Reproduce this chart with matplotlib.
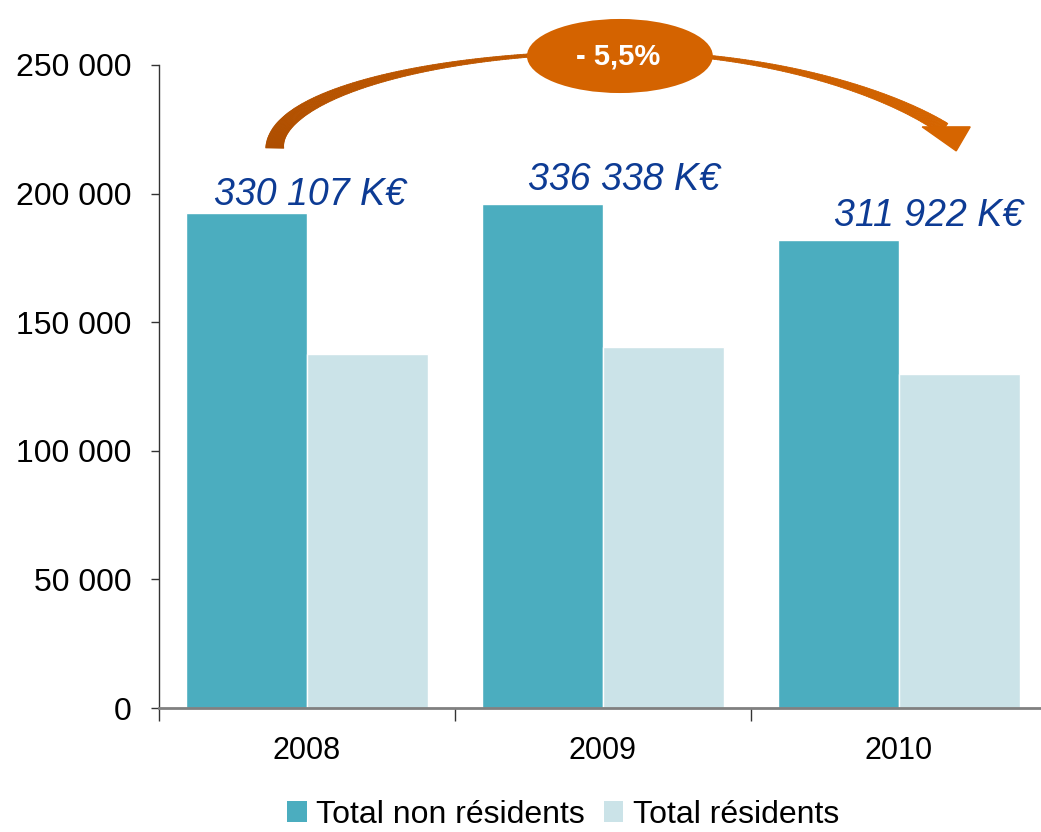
import numpy as np
import matplotlib
matplotlib.use("Agg")
import matplotlib.pyplot as plt
from matplotlib.patches import Ellipse, Patch, Polygon
from matplotlib.collections import PolyCollection
from matplotlib.transforms import IdentityTransform
from matplotlib.ticker import FuncFormatter, FixedLocator
import matplotlib.colors as mcolors

plt.rcParams['font.family'] = ['Liberation Sans', 'DejaVu Sans']

# data
years = ["2008", "2009", "2010"]
non_residents = [192300, 196000, 182000]
residents = [137800, 140300, 129900]
totals_label = ["330 107 K€", "336 338 K€", "311 922 K€"]
change_label = "- 5,5%"

c_non = '#4BADBF'
c_res = '#CBE3E8'
c_lab = '#0D3B94'
c_orange = '#D46300'

fig = plt.figure(figsize=(10.41, 8.32), dpi=100)
ax = fig.add_axes([159 / 1041, 124 / 832, 888 / 1041, 643 / 832])

x = np.arange(len(years))
w = 0.41
ax.bar(x - w / 2, non_residents, width=w, color=c_non, edgecolor='white', linewidth=1, zorder=2)
ax.bar(x + w / 2, residents, width=w, color=c_res, edgecolor='white', linewidth=1, zorder=2)

ax.set_xlim(-0.5, 2.5)
ax.set_ylim(0, 250000)

# total labels above each group
label_dx = [0.01, 0.07, 0.10]
label_dy = [3300, 5400, 5400]
for i in range(len(years)):
    ax.text(x[i] + label_dx[i], non_residents[i] + label_dy[i], totals_label[i],
            ha='center', va='baseline', fontsize=27, style='italic', color=c_lab)

# axes styling
for s in ['top', 'right']:
    ax.spines[s].set_visible(False)
ax.spines['left'].set_color('#333333')
ax.spines['left'].set_linewidth(1.0)
ax.spines['bottom'].set_color('#808080')
ax.spines['bottom'].set_linewidth(2.0)

ax.set_yticks(np.arange(0, 250001, 50000))
ax.yaxis.set_major_formatter(FuncFormatter(lambda v, p: f"{int(v):,}".replace(",", " ")))
ax.tick_params(axis='y', labelsize=23, length=6, width=1, pad=14, color='#333333')

ax.set_xticks(x)
ax.set_xticklabels(years)
ax.xaxis.set_minor_locator(FixedLocator([-0.5, 0.5, 1.5, 2.5]))
ax.tick_params(axis='x', which='major', length=0, labelsize=22, pad=20)
ax.tick_params(axis='x', which='minor', length=9, width=1, color='#333333')

# curved arrow (built in display pixels from data anchors)
cx, cy = 1.057, 217700
a_x, b_y = 1.166, 37300
theta = np.linspace(np.pi, np.radians(20), 300)
sn = np.sin(theta)
sn = np.where(theta < np.pi / 2, sn ** 1.5, sn)
pts = ax.transData.transform(np.column_stack([cx + a_x * np.cos(theta), cy + b_y * sn]))
tan = np.gradient(pts, axis=0)
tan /= np.linalg.norm(tan, axis=1)[:, None]
nrm = np.column_stack([-tan[:, 1], tan[:, 0]])
deg = np.degrees(theta)
width = np.full_like(deg, 3.0)
left = deg > 100
width[left] = 3 + 15 * ((deg[left] - 100) / 80) ** 1.5
right = deg < 80
width[right] = 3 + 10 * ((80 - deg[right]) / 60) ** 1.3
up = pts + nrm * width[:, None] / 2
lo = pts - nrm * width[:, None] / 2
quads = [[up[k], up[k + 1], lo[k + 1], lo[k]] for k in range(len(pts) - 1)]
c0 = np.array(mcolors.to_rgb('#AE4E00'))
c1 = np.array(mcolors.to_rgb('#D66500'))
t = np.linspace(0, 1, len(quads))
cols = [tuple(c0 + (c1 - c0) * tt) for tt in t]
pc = PolyCollection(quads, facecolors=cols, edgecolors=cols, linewidths=0.6,
                    transform=IdentityTransform(), clip_on=False, zorder=5)
ax.add_collection(pc, autolim=False)

E = pts[-1]
head = Polygon([E + [-22, 2], E + [26, 2], E + [12, -22]], closed=True,
               facecolor=c1, edgecolor=c1, transform=IdentityTransform(), clip_on=False, zorder=5)
ax.add_patch(head)

ell = Ellipse((1.057, 253500), 0.628, 28800, facecolor=c_orange, edgecolor='none',
              clip_on=False, zorder=6)
ax.add_patch(ell)
ax.text(1.05, 253300, change_label, ha='center', va='center', color='white',
        fontsize=21, fontweight='bold', zorder=7, clip_on=False)

# legend
handles = [Patch(facecolor=c_non, edgecolor='none'), Patch(facecolor=c_res, edgecolor='none')]
fig.legend(handles, ["Total non résidents", "Total résidents"], loc='lower center',
           bbox_to_anchor=(0.541, -0.032), ncol=2, frameon=False, fontsize=23,
           handlelength=0.6, handleheight=0.6, handletextpad=0.3, columnspacing=0.6)

fig.savefig("out.png", dpi=100)
